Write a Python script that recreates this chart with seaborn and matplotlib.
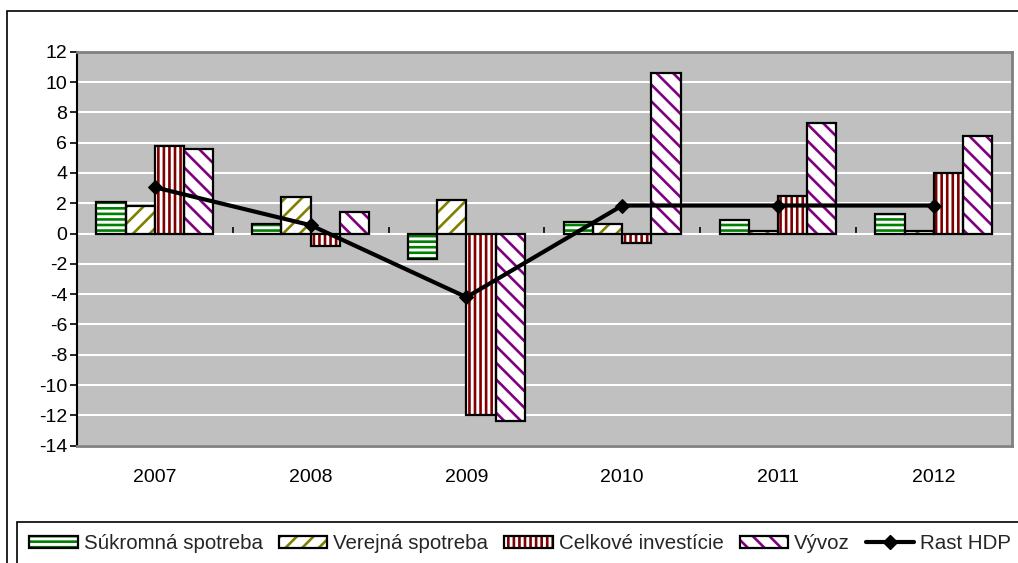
import numpy as np
import pandas as pd
import matplotlib
matplotlib.use("Agg")
import matplotlib.pyplot as plt
from matplotlib.patches import Rectangle, Patch
from matplotlib.lines import Line2D
import seaborn as sns

years = ["2007", "2008", "2009", "2010", "2011", "2012"]
sukromna = [2.1, 0.65, -1.7, 0.75, 0.9, 1.3]
verejna = [1.8, 2.4, 2.2, 0.65, 0.2, 0.2]
investicie = [5.8, -0.8, -12.0, -0.65, 2.5, 4.0]
vyvoz = [5.55, 1.45, -12.4, 10.6, 7.3, 6.45]
rast_hdp = [3.05, 0.55, -4.2, 1.85, 1.85, 1.85]
series_names = ["Súkromná spotreba", "Verejná spotreba", "Celkové investície", "Vývoz"]
line_name = "Rast HDP"
y_ticks = list(range(-14, 13, 2))

hatch_colors = ["#008000", "#808000", "#800000", "#800080"]
hatches = ["---", "//", "|||", "\\\\"]

sns.set_theme(style="white")
plt.rcParams["font.family"] = ["Liberation Sans", "DejaVu Sans"]
plt.rcParams["axes.unicode_minus"] = False
plt.rcParams["hatch.linewidth"] = 1.9

df = pd.DataFrame({
    "Rok": np.repeat(years, 4),
    "Ukazovateľ": series_names * len(years),
    "Hodnota": np.array([sukromna, verejna, investicie, vyvoz]).T.ravel(),
})

W, H = 1018, 563
fig = plt.figure(figsize=(W / 100, H / 100), dpi=100)
ax = fig.add_axes([77 / W, 1 - 445.7 / H, (1011.7 - 77) / W, (445.7 - 51.7) / H])
ax.set_facecolor("#C0C0C0")

sns.barplot(data=df, x="Rok", y="Hodnota", hue="Ukazovateľ", order=years,
            hue_order=series_names, palette=["white"] * 4, width=0.75,
            saturation=1, ax=ax, legend=False, zorder=3)

for cont, hc, ht in zip(ax.containers, hatch_colors, hatches):
    for bar in cont:
        bar.set_facecolor("white")
        bar.set_edgecolor(hc)
        bar.set_hatch(ht)
        bar.set_linewidth(0)
        ax.add_patch(Rectangle(bar.get_xy(), bar.get_width(), bar.get_height(),
                               fill=False, edgecolor="black", linewidth=1.6, zorder=4))

sns.lineplot(x=np.arange(len(years)), y=rast_hdp, ax=ax, color="black", lw=3,
             marker="D", markersize=7.5, markeredgecolor="black", sort=False, zorder=6)

ax.set_xlim(-0.5, len(years) - 0.5)
ax.set_ylim(-14, 12)
ax.set_yticks(y_ticks)
ax.set_yticklabels([str(v) for v in y_ticks])
ax.yaxis.grid(True, color="white", lw=1.5, zorder=0)
ax.set_axisbelow(True)
ax.set_xlabel("")
ax.set_ylabel("")
ax.set_xticks(range(len(years)))
ax.set_xticklabels(years)
ax.tick_params(axis="x", length=0, pad=17, labelsize=14, colors="black")
ax.tick_params(axis="y", direction="out", length=5, width=1.2, pad=2,
               labelsize=14, left=True, colors="black")
for s in ["top", "right", "bottom"]:
    ax.spines[s].set_color("#808080")
    ax.spines[s].set_linewidth(2)
ax.spines["left"].set_color("black")
ax.spines["left"].set_linewidth(1.5)

# zero line with category boundary ticks
sec = ax.secondary_xaxis(14 / 26)
sec.set_xticks(np.arange(len(years) - 1) + 0.5)
sec.set_xticklabels([""] * (len(years) - 1))
sec.tick_params(direction="out", length=5, width=1.2, colors="black")
sec.spines["bottom"].set_color("black")
sec.spines["bottom"].set_linewidth(1.5)

# outer chart border
fig.add_artist(Rectangle((7 / W, -0.1), 1.2, 1 - 11.5 / H + 0.1, fill=False,
                         edgecolor="black", lw=1.2, transform=fig.transFigure))

handles = []
for hc, ht in zip(hatch_colors, hatches):
    handles.append((Patch(facecolor="white", edgecolor=hc, hatch=ht, lw=0),
                    Patch(fill=False, edgecolor="black", lw=1.6)))
handles.append(Line2D([], [], color="black", lw=3, marker="D", markersize=7.5))
labels = series_names + [line_name]
leg = fig.legend(handles, labels, loc="upper left", ncol=5,
                 bbox_to_anchor=(17 / W, 1 - 521.7 / H), bbox_transform=fig.transFigure,
                 borderaxespad=0, frameon=True, fancybox=False, framealpha=1,
                 edgecolor="black", fontsize=14.8, handlelength=2.35, handleheight=0.5,
                 handletextpad=0.3, columnspacing=0.78, borderpad=0.6)
leg.get_frame().set_linewidth(1.2)

fig.savefig("out.png", dpi=100, facecolor="white")
